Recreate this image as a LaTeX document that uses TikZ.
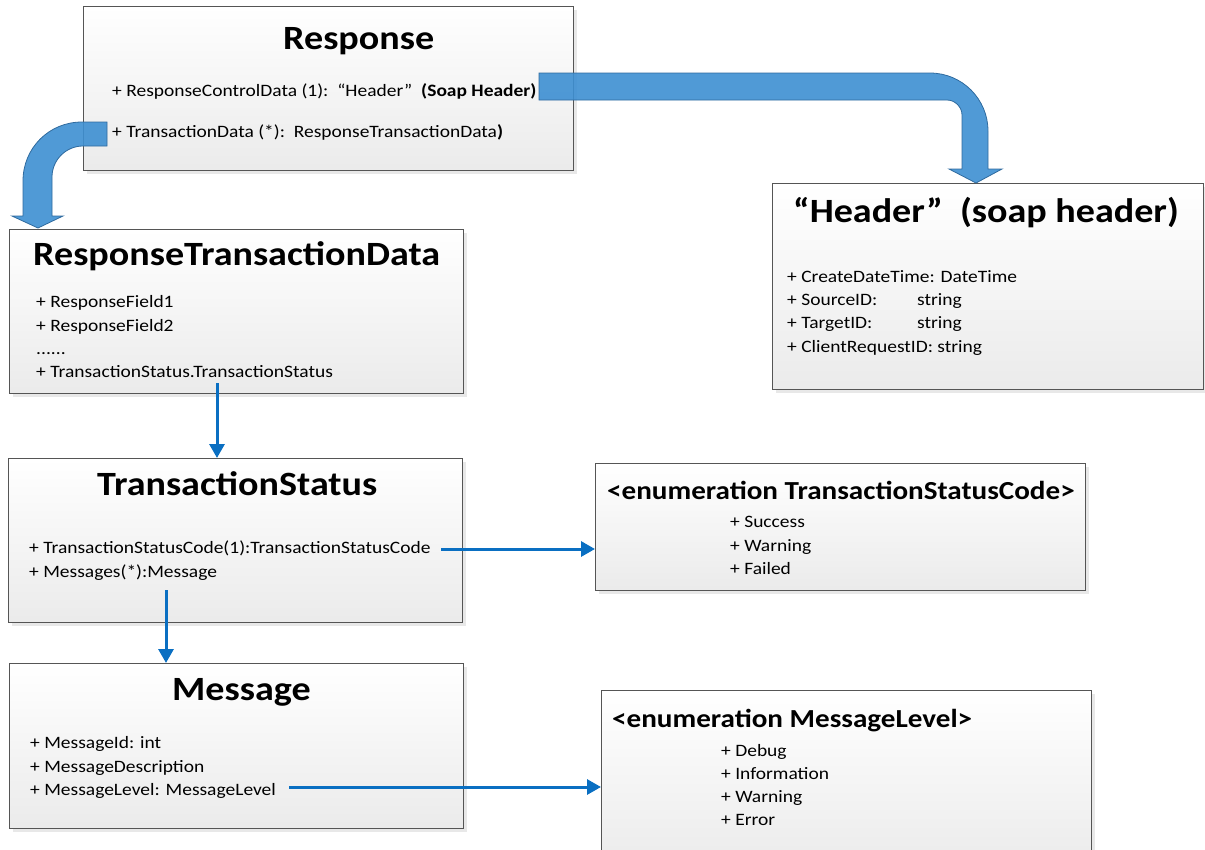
\documentclass[tikz,border=0pt]{standalone}
\usepackage{fontspec}
\setmainfont{Carlito}[FakeStretch=1.12]
\usetikzlibrary{arrows.meta,shadows}
\definecolor{bandblue}{HTML}{3D8FD2}
\definecolor{bandedge}{HTML}{2F6A9E}
\definecolor{linkblue}{HTML}{0A6FC2}
\definecolor{boxedge}{HTML}{555555}
\tikzset{
  classbox/.style={draw=boxedge, line width=1.4pt, inner sep=0pt, anchor=north west,
    top color=white, middle color=black!3, bottom color=black!8,
    drop shadow={shadow xshift=3pt, shadow yshift=-3pt, opacity=0.18}},
  classtitle/.style={font=\fontsize{34}{40}\selectfont\bfseries, inner sep=0pt, anchor=base west},
  enumtitle/.style={font=\fontsize{26}{30}\selectfont\bfseries, inner sep=0pt, anchor=base west},
  field/.style={font=\fontsize{17.4}{20}\selectfont, inner sep=0pt, anchor=base west},
  link/.style={draw=linkblue, line width=3pt, -{Triangle[width=15pt,length=14pt]}},
  bigarrow/.style={fill=bandblue, draw=bandedge, line width=0.8pt, fill opacity=0.9}
}
\begin{document}
\begin{tikzpicture}[x=1pt,y=-1pt]
  \useasboundingbox (0,0) rectangle (1205,849);
  %% boxes
  \node[classbox, minimum width=490pt, minimum height=164pt] (resp) at (83,6) {};
  \node[classbox, minimum width=454pt, minimum height=164pt] (rtd) at (9,229) {};
  \node[classbox, minimum width=431pt, minimum height=206pt] (hdr) at (772,183) {};
  \node[classbox, minimum width=454pt, minimum height=164pt] (ts) at (8,458) {};
  \node[classbox, minimum width=490pt, minimum height=127pt] (tsc) at (595,463) {};
  \node[classbox, minimum width=454pt, minimum height=165pt] (msg) at (9,663) {};
  \node[classbox, minimum width=490pt, minimum height=180pt] (ml) at (601,690) {};

  %% Response
  \node[classtitle] (resptitle) at (283,49) {Response};
  \node[field] (respctl) at (112,96) {+ ResponseControlData (1):\ \ “Header”\ \ \textbf{(Soap Header)}};
  \node[field] (resptxn) at (112,137) {+ TransactionData (*):\ \ ResponseTransactionData\textbf{)}};

  %% ResponseTransactionData
  \node[classtitle] (rtdtitle) at (33,265) {ResponseTransactionData};
  \node[field] (rtdf1) at (36,307) {+ ResponseField1};
  \node[field] (rtdf2) at (36,331) {+ ResponseField2};
  \node[field] (rtddots) at (36,354) {......};
  \node[field] (rtdstatus) at (36,377) {+ TransactionStatus.TransactionStatus};

  %% Header
  \node[classtitle] (hdrtitle) at (793,222) {“Header”\ \ (soap header)};
  \node[field] (hdrf1) at (787,282) {+ CreateDateTime: DateTime};
  \node[field] (hdrf2) at (787,305) {\makebox[130pt][l]{+ SourceID:}string};
  \node[field] (hdrf3) at (787,328) {\makebox[130pt][l]{+ TargetID:}string};
  \node[field] (hdrf4) at (787,352) {+ ClientRequestID: string};

  %% TransactionStatus
  \node[classtitle] (tstitle) at (97,495) {TransactionStatus};
  \node[field] (tsf1) at (29,553) {+ TransactionStatusCode(1):TransactionStatusCode};
  \node[field] (tsf2) at (29,577) {+ Messages(*):Message};

  %% enumeration TransactionStatusCode
  \node[enumtitle] (tsctitle) at (607,499) {<enumeration TransactionStatusCode>};
  \node[field] (tscok) at (730,527) {+ Success};
  \node[field] (tscwarn) at (730,551) {+ Warning};
  \node[field] (tscfail) at (730,574) {+ Failed};

  %% Message
  \node[classtitle] (msgtitle) at (172,700) {Message};
  \node[field] (msgf1) at (30,748) {+ MessageId: int};
  \node[field] (msgf2) at (30,772) {+ MessageDescription};
  \node[field] (msgf3) at (30,795) {+ MessageLevel: MessageLevel};

  %% enumeration MessageLevel
  \node[enumtitle] (mltitle) at (612,727) {<enumeration MessageLevel>};
  \node[field] (mldebug) at (721,756) {+ Debug};
  \node[field] (mlinfo) at (721,779) {+ Information};
  \node[field] (mlwarn) at (721,802) {+ Warning};
  \node[field] (mlerror) at (721,825) {+ Error};

  %% thin links
  \coordinate (rtdout) at (217,383);
  \coordinate (tscode) at (441,549);
  \coordinate (msgs) at (166,590);
  \coordinate (mlevel) at (289,787);
  \draw[link] (rtdout) -- (rtdout |- ts.north);
  \draw[link] (tscode) -- (tscode -| tsc.west);
  \draw[link] (msgs) -- (msgs |- msg.north);
  \draw[link] (mlevel) -- (mlevel -| ml.west);

  %% bent block arrows
  \draw[bigarrow] (539,73) -- (930,73) .. controls (962,73) and (988,99) .. (988,131)
    -- (988,169) -- (1002,169) -- (976,183) -- (949,169) -- (962,169) -- (962,115)
    .. controls (962,107) and (955,100) .. (947,100) -- (539,100) -- cycle;
  \draw[bigarrow] (107,122) -- (82,122) .. controls (49,122) and (23,148) .. (23,181)
    -- (23,216) -- (12,216) -- (38,228) -- (63,216) -- (52,216) -- (52,177)
    .. controls (52,160) and (66,146) .. (83,146) -- (107,146) -- cycle;
\end{tikzpicture}
\end{document}
